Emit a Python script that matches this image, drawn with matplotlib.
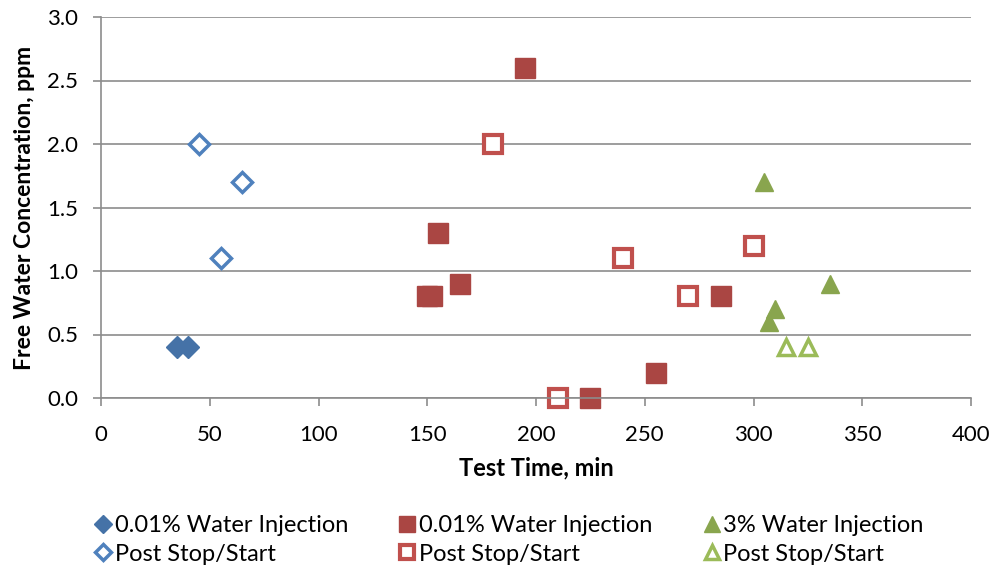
import matplotlib.pyplot as plt

plt.rcParams['font.family'] = ['Lato', 'DejaVu Sans']

# 0.01% water injection, first run (blue)
blue_x = [35, 40]
blue_y = [0.4, 0.4]
blue_post_x = [45, 55, 65]
blue_post_y = [2.0, 1.1, 1.7]

# 0.01% water injection, second run (red)
red_x = [150, 152, 155, 165, 195, 225, 255, 285]
red_y = [0.8, 0.8, 1.3, 0.9, 2.6, 0.0, 0.2, 0.8]
red_post_x = [180, 210, 240, 270, 300]
red_post_y = [2.0, 0.0, 1.1, 0.8, 1.2]

# 3% water injection (green)
green_x = [305, 307, 310, 335]
green_y = [1.7, 0.6, 0.7, 0.9]
green_post_x = [315, 325]
green_post_y = [0.4, 0.4]

x_ticks = [0, 50, 100, 150, 200, 250, 300, 350, 400]
y_ticks = [0.0, 0.5, 1.0, 1.5, 2.0, 2.5, 3.0]

fig = plt.figure(figsize=(9.98, 5.74), dpi=100)
ax = fig.add_axes([101 / 998, 1 - 398 / 574, 870 / 998, 381 / 574])

h1, = ax.plot(blue_x, blue_y, 'D', color='#4572A7', markersize=11, linestyle='none',
              clip_on=False, label='0.01% Water Injection')
h2, = ax.plot(blue_post_x, blue_post_y, 'D', markerfacecolor='white', markeredgecolor='#4F81BD',
              markeredgewidth=2.5, markersize=10, linestyle='none', clip_on=False,
              label='Post Stop/Start')
h3, = ax.plot(red_x, red_y, 's', color='#AA4643', markersize=14, linestyle='none',
              clip_on=False, label='0.01% Water Injection')
h4, = ax.plot(red_post_x, red_post_y, 's', markerfacecolor='white', markeredgecolor='#C0504D',
              markeredgewidth=3, markersize=12.5, linestyle='none', clip_on=False,
              label='Post Stop/Start')
h5, = ax.plot(green_x, green_y, '^', color='#89A54E', markersize=13, linestyle='none',
              clip_on=False, label='3% Water Injection')
h6, = ax.plot(green_post_x, green_post_y, '^', markerfacecolor='white', markeredgecolor='#9BBB59',
              markeredgewidth=2.5, markersize=12, linestyle='none', clip_on=False,
              label='Post Stop/Start')

ax.set_xlim(0, 400)
ax.set_ylim(0, 3.0)
ax.set_xticks(x_ticks)
ax.set_yticks(y_ticks)
ax.set_yticklabels([f'{v:.1f}' for v in y_ticks])
ax.yaxis.grid(True, color='#8C8C8C', linewidth=1.2)
ax.set_axisbelow(True)
for side in ['top', 'right']:
    ax.spines[side].set_visible(False)
for side in ['left', 'bottom']:
    ax.spines[side].set_color('#8C8C8C')
    ax.spines[side].set_linewidth(1.2)
ax.tick_params(axis='both', direction='out', length=5.5, width=1.2, color='#8C8C8C',
               labelsize=16)
ax.tick_params(axis='x', pad=14)
ax.tick_params(axis='y', pad=11)

ax.set_xlabel('Test Time, min', fontsize=17, fontweight='bold', labelpad=8)
ax.set_ylabel('Free Water Concentration, ppm', fontsize=16.5, fontweight='bold', labelpad=9)

fig.legend(handles=[h1, h2, h3, h4, h5, h6], ncol=3, loc='center left',
           bbox_to_anchor=(82 / 998, 1 - 540 / 574), frameon=False, fontsize=17,
           handlelength=0.8, handletextpad=0.1, columnspacing=2.1, labelspacing=0.3,
           markerscale=0.85, borderpad=0)

fig.savefig('out.png', dpi=100)
